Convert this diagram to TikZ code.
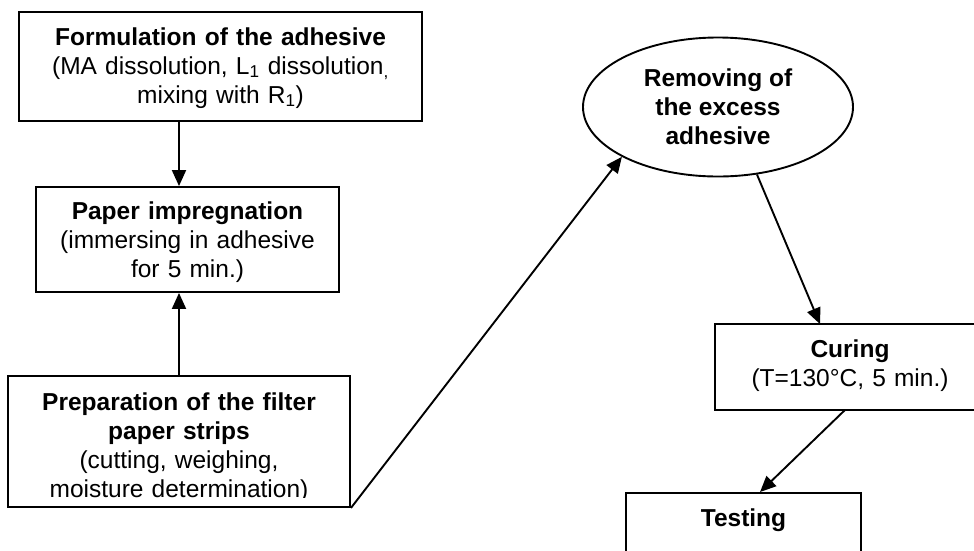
\documentclass[tikz,border=0pt]{standalone}
\usepackage{fontspec}
\setmainfont{Liberation Sans}
\usepackage{tikz}
\usetikzlibrary{shapes.geometric,arrows.meta}
\tikzset{
  box/.style={draw, line width=1.9pt, inner sep=0pt},
  boxtext/.style={anchor=base, align=center, inner sep=0pt, font=\fontsize{24.5}{29}\selectfont},
  arr/.style={line width=1.9pt, -{Triangle[length=16pt,width=14pt]}}
}

\begin{document}
\begin{tikzpicture}[x=1pt,y=-1pt]
    \useasboundingbox (0,0) rectangle (974,550);
    \clip (0,0) rectangle (974,550);
    % left column
    \node[box, minimum width=403pt, minimum height=109pt] (form) at (220.5,66.5) {};
    \node[boxtext, text width=400pt] (formtext) at ([yshift=-34pt]form.north)
      {\textbf{Formulation of the adhesive}\\(MA dissolution, L\textsubscript{1} dissolution\textsubscript{,}\\mixing with R\textsubscript{1})};
    \node[box, minimum width=303pt, minimum height=105pt] (impr) at (187.5,239.5) {};
    \node[boxtext, text width=300pt] (imprtext) at ([yshift=-33pt]impr.north)
      {\textbf{Paper impregnation}\\(immersing in adhesive\\for 5 min.)};
    \node[box, minimum width=342pt, minimum height=131pt] (prep) at (179,441.5) {};
    \begin{scope}
      \clip (prep.north west) rectangle ([yshift=10pt]prep.south east);
      \node[boxtext, text width=338pt] (preptext) at ([yshift=-35pt]prep.north)
        {\textbf{Preparation of the filter}\\\textbf{paper strips}\\(cutting, weighing,\\moisture determination)};
    \end{scope}
    % right side, curing box runs past the edge
    \node[ellipse, draw, line width=1.9pt, inner sep=0pt, minimum width=270pt, minimum height=139pt,
      align=center, font=\fontsize{24.5}{29}\selectfont\bfseries] (remove) at (718,107)
      {Removing of\\the excess\\adhesive};
    \node[box, draw=none, minimum width=300pt, minimum height=84pt] (curing) at (866,367) {};
    \draw[line width=1.9pt] (curing.north east) -- (curing.north west) -- (curing.south west) -- (curing.south east);
    \node[boxtext, text width=264pt] (curingtext) at ([xshift=-16pt,yshift=-33pt]curing.north)
      {\textbf{Curing}\\(T=130°C, 5 min.)};
    \node[box, minimum width=235pt, minimum height=86pt] (testing) at (743.5,536) {};
    \node[boxtext, text width=231pt] (testingtext) at ([yshift=-34pt]testing.north)
      {\textbf{Testing}};
    % arrows
    \draw[arr] (form.south -| prep.north) -- (impr.north -| prep.north);
    \draw[arr] (prep.north) -- (impr.south -| prep.north);
    \draw[arr] (prep.south east) -- (remove.south west);
    \draw[arr] (remove.300) -- ([xshift=-46pt]curing.north);
    \draw[arr] ([xshift=-21pt]curing.south) -- ([xshift=16.5pt]testing.north);
\end{tikzpicture}
\end{document}
